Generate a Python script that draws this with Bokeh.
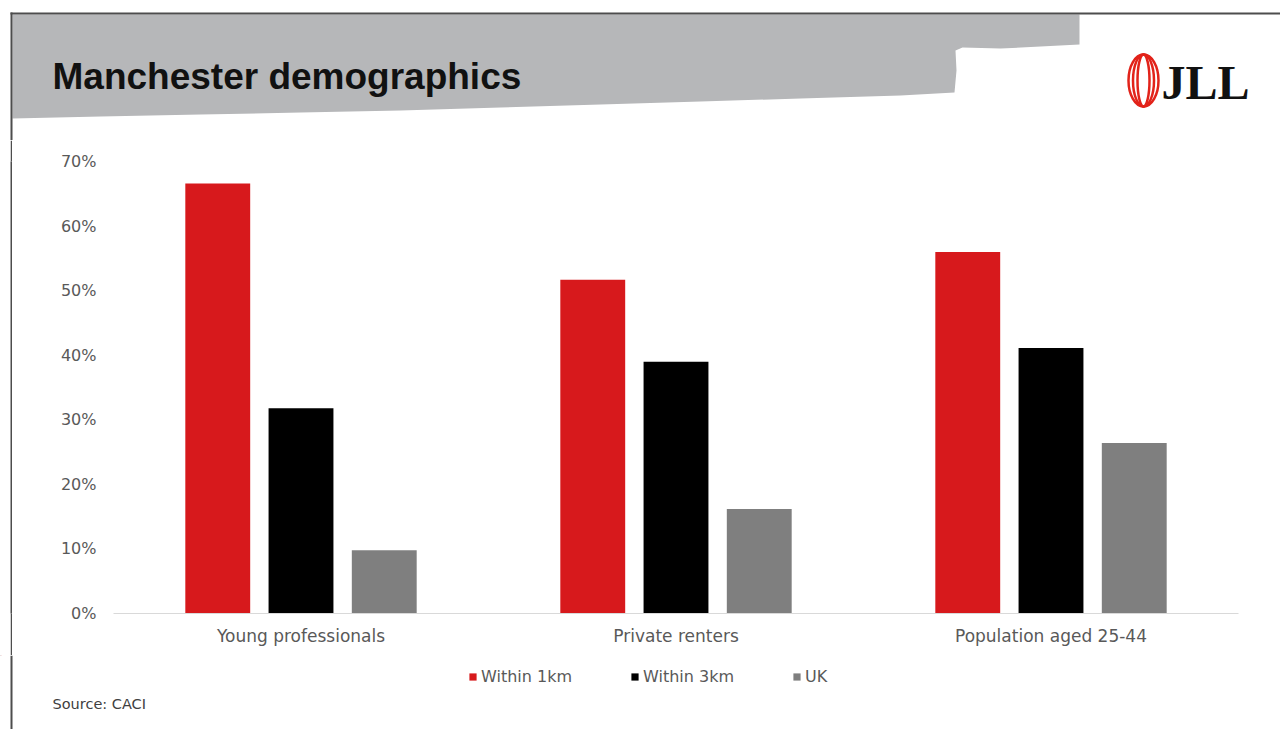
import numpy as np
from bokeh.plotting import figure
from bokeh.layouts import column, row, Spacer
from bokeh.models import (ColumnDataSource, FactorRange, Range1d, NumeralTickFormatter,
                          FixedTicker, Legend, LegendItem)
from bokeh.core.properties import value
from bokeh.transform import dodge
from bokeh.embed import file_html
from bokeh.resources import INLINE

# ---- data ----
categories = ["Young professionals", "Private renters", "Population aged 25-44"]
within_1km = [0.666, 0.517, 0.560]
within_3km = [0.318, 0.390, 0.411]
uk = [0.098, 0.162, 0.264]
series_names = ["Within 1km", "Within 3km", "UK"]
y_ticks = [0.0, 0.1, 0.2, 0.3, 0.4, 0.5, 0.6, 0.7]

title_text = "Manchester demographics"
source_text = "Source: CACI"
logo_text = "JLL"

RED = "#d7191c"
BLACK = "#000000"
GREY = "#7f7f7f"
TXT = "#595959"
BORDER = "#4d4d4d"
FONT = "DejaVu Sans"

W = 1280
H = 729
TOP_H = 140
MAIN_BOTTOM = 655
STRIP_W = 12

bw = 0.173
off = 0.222
colors = [RED, BLACK, GREY]
cols = ["w1", "w3", "uk"]
offsets = [-off, 0.0, off]


def bare(fig, bg="white"):
    fig.outline_line_color = None
    fig.grid.grid_line_color = None
    fig.background_fill_color = bg
    fig.border_fill_color = bg
    return fig


src = ColumnDataSource(dict(cat=categories, w1=within_1km, w3=within_3km, uk=uk))

# ---------------- top banner ----------------
top = bare(figure(width=W, height=TOP_H, x_range=Range1d(0, W), y_range=Range1d(TOP_H, 0),
                  output_backend="svg", toolbar_location=None,
                  x_axis_location=None, y_axis_location=None, min_border=0))

band_x = [12, 1079, 1079, 1040, 1000, 962, 955, 956, 954, 900, 800, 700, 600, 500,
          400, 300, 200, 100, 12]
band_y = [14, 14, 44, 46, 48, 47, 50, 70, 92, 95, 98, 101, 104, 107, 110, 112, 114, 116, 118]
top.patch(band_x, band_y, fill_color="#b6b7b9", line_color=None)
top.line([10, W], [13, 13], line_color=BORDER, line_width=2)
top.line([11, 11], [12, TOP_H], line_color=BORDER, line_width=2)

top.text(x=[52], y=[76], text=[title_text], text_font=value("Liberation Sans"),
         text_font_style="bold", text_font_size="37px", text_color="#111111",
         text_baseline="middle")

for w in [30, 21, 12]:
    top.ellipse(x=[1143], y=[80], width=[w], height=[52], fill_color=None,
                line_color="#e2231a", line_width=2.5)
top.text(x=[1161], y=[82], text=[logo_text], text_font=value("Liberation Serif"),
         text_font_style="bold", text_font_size="48px", text_color="#111111",
         text_baseline="middle")

# ---------------- left border strip (10px white + 2px dark) ----------------
MAIN_H = MAIN_BOTTOM - TOP_H
gap = Spacer(width=10, height=MAIN_H)
strip = bare(figure(width=2, height=MAIN_H, x_range=Range1d(0, 1), y_range=Range1d(0, 1),
                    output_backend="svg", toolbar_location=None,
                    x_axis_location=None, y_axis_location=None, min_border=0), bg=BORDER)

# ---------------- main chart ----------------
p = bare(figure(width=W - STRIP_W, height=MAIN_H,
                x_range=FactorRange(*categories), y_range=Range1d(0, 0.7),
                output_backend="svg", toolbar_location=None,
                min_border_left=113 - STRIP_W, min_border_right=42,
                min_border_top=161 - TOP_H, min_border_bottom=MAIN_BOTTOM - 613))
p.x_range.range_padding = 0

for c, o, col in zip(cols, offsets, colors):
    p.vbar(x=dodge("cat", o, range=p.x_range), top=c, width=bw, source=src,
           fill_color=col, line_color=None)

p.yaxis.ticker = FixedTicker(ticks=y_ticks)
p.yaxis.formatter = NumeralTickFormatter(format="0%")
p.yaxis.axis_line_color = None
p.yaxis.major_tick_line_color = None
p.yaxis.minor_tick_line_color = None
p.yaxis.major_label_standoff = 11
p.yaxis.major_label_text_font = FONT
p.yaxis.major_label_text_font_size = "16px"
p.yaxis.major_label_text_color = TXT

p.xaxis.axis_line_color = "#d9d9d9"
p.xaxis.axis_line_width = 1
p.xaxis.major_tick_line_color = None
p.xaxis.minor_tick_line_color = None
p.xaxis.major_tick_out = 0
p.xaxis.major_label_standoff = 12
p.xaxis.major_label_text_font = FONT
p.xaxis.major_label_text_font_size = "17px"
p.xaxis.major_label_text_color = TXT

# ---------------- bottom: legend + source ----------------
BOT_H = H - MAIN_BOTTOM
bot = bare(figure(width=W, height=BOT_H, x_range=Range1d(0, W),
                  y_range=Range1d(H, MAIN_BOTTOM),
                  output_backend="svg", toolbar_location=None,
                  x_axis_location=None, y_axis_location=None, min_border=0))

# legend keys: the series, drawn from the same data (their values lie outside this strip's window)
legend_renderers = []
for c, col in zip(cols, colors):
    legend_renderers.append(bot.vbar(x=c, top=c, width=bw, source=src,
                                     fill_color=col, line_color=None))

legend = Legend(items=[LegendItem(label=n, renderers=[r])
                       for n, r in zip(series_names, legend_renderers)],
                orientation="horizontal", location=(468, 43),
                padding=0, margin=0, spacing=58,
                glyph_width=9, glyph_height=9, label_standoff=4,
                label_text_font=FONT, label_text_font_size="16px",
                label_text_color=TXT, border_line_color=None,
                background_fill_alpha=0)
bot.add_layout(legend, "center")

bot.line([11, 11], [MAIN_BOTTOM, H], line_color=BORDER, line_width=2)
bot.text(x=[52], y=[703], text=[source_text], text_font=value(FONT),
         text_font_size="14.5px", text_color="#404040", text_baseline="middle")

layout = column(top, row(gap, strip, p, spacing=0), bot, spacing=0)
open("out.html", "w").write(file_html(layout, INLINE))
